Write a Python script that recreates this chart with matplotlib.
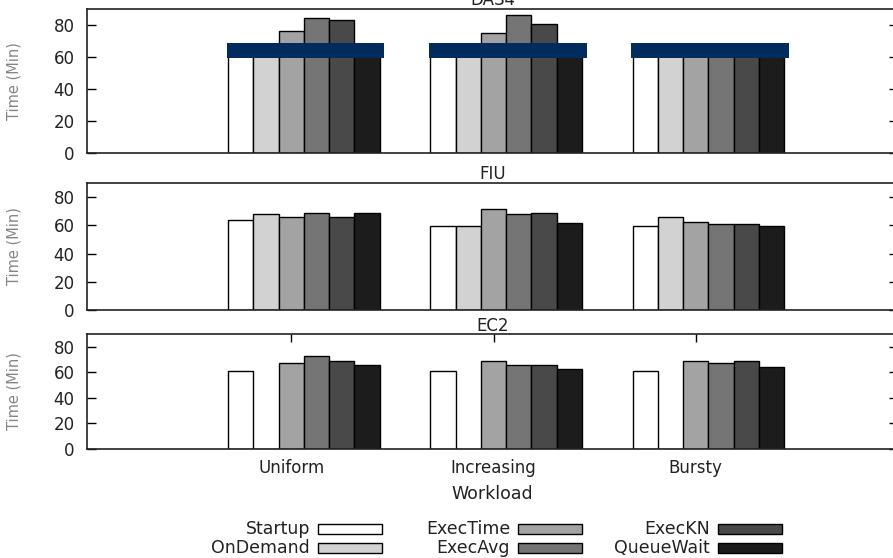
import matplotlib
matplotlib.use("Agg")
import matplotlib.pyplot as plt
from matplotlib.patches import Rectangle
import numpy as np

plt.rcParams['font.family'] = ['DejaVu Sans']

# workloads on the x axis and the six measured times
workloads = ["Uniform", "Increasing", "Bursty"]
series = ["Startup", "OnDemand", "ExecTime", "ExecAvg", "ExecKN", "QueueWait"]
series_colors = ["#ffffff", "#d2d2d2", "#a3a3a3", "#757575", "#494949", "#1c1c1c"]

# values, one row per series (Uniform, Increasing, Bursty)
das4_values = [
    [62.0, 62.7, 62.0],   # Startup
    [63.0, 63.0, 64.0],   # OnDemand
    [76.1, 74.8, 63.0],   # ExecTime
    [84.2, 86.4, 64.0],   # ExecAvg
    [82.9, 80.6, 63.0],   # ExecKN
    [65.0, 66.0, 62.0],   # QueueWait
]
fiu_values = [
    [63.8, 59.5, 59.5],
    [67.8, 59.5, 66.1],
    [66.1, 71.4, 62.1],
    [69.0, 68.0, 60.9],
    [66.1, 69.0, 60.9],
    [69.0, 61.4, 59.5],
]
ec2_values = [
    [61.3, 61.3, 61.3],
    [0.0, 0.0, 0.0],
    [67.5, 68.6, 68.6],
    [73.0, 66.0, 67.0],
    [68.6, 65.7, 68.6],
    [66.0, 62.8, 63.9],
]
y_ticks = [0, 20, 40, 60, 80]

# the DAS4 panel has a dark band drawn over the bars (60-69 min)
band_low, band_high = 59.2, 69.0

W, H = 893, 558
bar_w = 0.125
text_col = "#222222"


def panel(rect_px, values, title):
    left, top, right, bottom = rect_px
    ax = fig.add_axes([left / W, 1 - bottom / H, (right - left) / W, (bottom - top) / H])
    xs = np.arange(1, len(workloads) + 1)
    for j, name in enumerate(series):
        ax.bar(xs + (j - 2) * bar_w, values[j], width=bar_w, color=series_colors[j],
               edgecolor="black", linewidth=1.0, label=name, zorder=2)
    ax.set_xlim(-0.01, 4.0)
    ax.set_ylim(0, 90)
    ax.set_yticks(y_ticks)
    ax.tick_params(axis="y", direction="in", length=6.5, width=1.0, left=True, right=True,
                   labelsize=12, labelcolor=text_col, pad=9)
    ax.set_xticks(xs)
    ax.tick_params(axis="x", bottom=False, top=False, labelbottom=False)
    for s in ax.spines.values():
        s.set_linewidth(1.2)
        s.set_color("#222222")
    ax.set_title(title, fontsize=12, color=text_col, pad=2)
    ax.set_ylabel("Time (Min)", fontsize=10.5, color="#858585")
    ax.yaxis.set_label_coords(-0.081, 0.5)
    return ax


fig = plt.figure(figsize=(W / 100, H / 100), dpi=100)

ax_das4 = panel((87, 9, 898, 153), das4_values, "DAS4")
ax_fiu = panel((87, 183, 898, 310), fiu_values, "FIU")
ax_ec2 = panel((87, 334, 898, 449), ec2_values, "EC2")

# dark bands over the DAS4 groups
for i in range(len(workloads)):
    ax_das4.add_patch(Rectangle((i + 1 - 0.32, band_low), 0.78, band_high - band_low,
                                facecolor="#022b60", edgecolor="none", zorder=5))

# only the bottom panel carries the workload labels, ticks on its top edge
ax_ec2.set_xticklabels(workloads)
ax_ec2.tick_params(axis="x", bottom=False, top=True, direction="in", length=6, width=1.0,
                   labelbottom=True, labelsize=12, labelcolor=text_col, pad=7)
ax_ec2.set_xlabel("Workload", fontsize=12.5, color=text_col, labelpad=6)

# gnuplot style key: 3 columns x 2 rows, label right-aligned before its swatch
for k, name in enumerate(series):
    col, row = k // 2, k % 2
    sx = 318 + 200 * col
    sy = 529 + 19 * row
    fig.add_artist(Rectangle((sx / W, 1 - (sy + 5) / H), 64 / W, 10 / H,
                             transform=fig.transFigure, facecolor=series_colors[k],
                             edgecolor="black", linewidth=1.0))
    fig.text((sx - 8) / W, 1 - sy / H, name, ha="right", va="center",
             fontsize=12.5, color=text_col)

fig.savefig("out.png", dpi=100)
